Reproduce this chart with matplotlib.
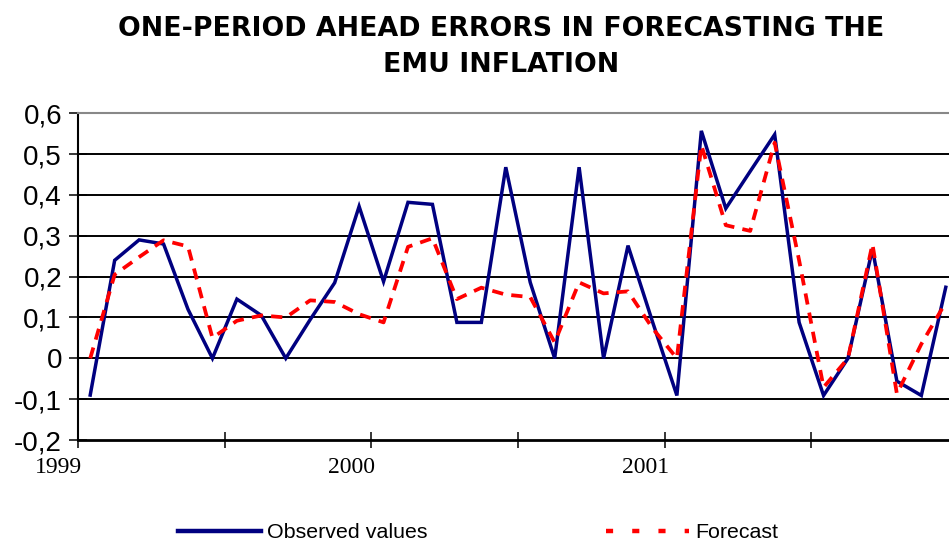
import matplotlib
matplotlib.use("Agg")
import matplotlib.pyplot as plt
from matplotlib.lines import Line2D

# ---- data (monthly, Jan 1999 - Dec 2001) ----
observed = [-0.09, 0.24, 0.29, 0.28, 0.12, 0.00, 0.145, 0.105, 0.00, 0.095,
            0.185, 0.372, 0.188, 0.382, 0.377, 0.088, 0.088, 0.468, 0.186, 0.00,
            0.468, 0.00, 0.276, 0.09, -0.091, 0.557, 0.367, 0.458, 0.548, 0.088,
            -0.091, 0.00, 0.268, -0.056, -0.091, 0.174]
forecast = [0.00, 0.205, 0.248, 0.289, 0.274, 0.05, 0.092, 0.105, 0.10, 0.142,
            0.138, 0.108, 0.088, 0.273, 0.294, 0.145, 0.173, 0.156, 0.15, 0.039,
            0.186, 0.159, 0.164, 0.074, 0.00, 0.522, 0.326, 0.312, 0.528, 0.24,
            -0.071, 0.00, 0.28, -0.087, 0.035, 0.137]
year_labels = ["1999", "2000", "2001"]
yticks = [-0.2, -0.1, 0, 0.1, 0.2, 0.3, 0.4, 0.5, 0.6]
ytick_labels = ["-0,2", "-0,1", "0", "0,1", "0,2", "0,3", "0,4", "0,5", "0,6"]
title = "ONE-PERIOD AHEAD ERRORS IN FORECASTING THE\nEMU INFLATION"

W, H = 949, 543
fig = plt.figure(figsize=(W / 100, H / 100), dpi=100)
# axes in pixel coords: x 78 -> 958, y 113.3 -> 440
left, right = 78, 958
top, bottom = 113.3, 440
ax = fig.add_axes([left / W, (H - bottom) / H, (right - left) / W, (bottom - top) / H])

x = list(range(len(observed)))
ax.plot(x, observed, color="#000080", lw=2.5, solid_joinstyle="miter", zorder=3)
ax.plot(x, forecast, color="#FF0000", lw=2.7, dashes=(3.0, 2.2), zorder=4)

ax.set_xlim(-0.5, len(observed) - 0.5)
ax.set_ylim(-0.2, 0.6)
ax.set_yticks(yticks)
ax.set_yticklabels(ytick_labels, fontsize=20, family="Liberation Sans")
for v in yticks[1:]:
    ax.axhline(v, color="black", lw=1.4, zorder=1)

ax.set_xticks([i - 0.5 for i in range(0, len(observed) + 1, 6)])
ax.set_xticklabels([])
ax.tick_params(axis="x", direction="inout", length=11, width=1.1)
ax.tick_params(axis="y", direction="inout", length=13, width=1.1, pad=5)

ax.spines["right"].set_visible(False)
ax.spines["top"].set_color("#888888")
ax.spines["top"].set_linewidth(1.5)
ax.spines["left"].set_linewidth(1.5)
ax.spines["bottom"].set_linewidth(2.0)

# year labels right-aligned at year ticks
for k, lab in enumerate(year_labels):
    ax.annotate(lab, xy=(-0.5 + 12 * k, -0.2), xycoords="data",
                xytext=(4, -17), textcoords="offset pixels",
                ha="right", va="top", fontsize=17, family="Liberation Serif",
                annotation_clip=False)

fig.text(501 / W, 1 - 47.5 / H, title, ha="center", va="center",
         fontsize=19.3, fontweight="bold", family="DejaVu Sans", linespacing=1.5)

h1 = Line2D([], [], color="#000080", lw=3.2)
h2 = Line2D([], [], color="#FF0000", lw=3.2, dashes=(1.6, 4.3))
fig.legend([h1, h2], ["Observed values", "Forecast"], loc="center",
           bbox_to_anchor=(478 / W, 1 - 533 / H), ncol=2, frameon=False,
           prop={"family": "Liberation Sans", "size": 15.4},
           handlelength=3.9, handletextpad=0.3, columnspacing=8.3,
           borderpad=0, borderaxespad=0)

fig.savefig("out.png", dpi=100)
